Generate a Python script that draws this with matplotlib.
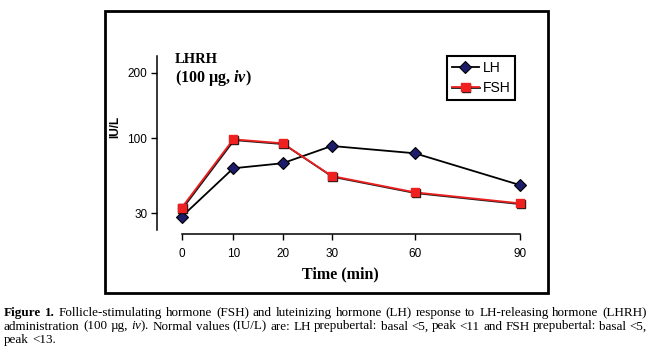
import numpy as np
import matplotlib.pyplot as plt
from matplotlib import patheffects as pe
from matplotlib.patches import Rectangle

minutes = [0, 10, 20, 30, 60, 90]
lh = [28.4, 61.8, 67.0, 88.4, 78.6, 47.2]
fsh = [32.8, 98.4, 92.3, 54.6, 42.0, 35.2]
x_ticklabels = ['0', '10', '20', '30', '60', '90']
y_ticks = [30, 100, 200]

caption = [
    "Figure 1. Follicle-stimulating hormone (FSH) and luteinizing hormone (LH) response to LH-releasing hormone (LHRH)",
    r"administration (100 µg, $\mathit{iv}$). Normal values (IU/L) are: LH prepubertal: basal <5, peak <11 and FSH prepubertal: basal <5,",
    "peak <13.",
]

# the original axes are hand made: tick spacing (px)
x_anchor = [0, 51.6, 101, 150, 233.3, 338.3]
y_anchor = [0, 75, 140.6]


def pw(x, xp, fp):
    x = np.asarray(x, float)
    xp = np.asarray(xp, float)
    fp = np.asarray(fp, float)
    out = np.interp(x, xp, fp)
    lo = fp[0] + (x - xp[0]) * (fp[1] - fp[0]) / (xp[1] - xp[0])
    hi = fp[-1] + (x - xp[-1]) * (fp[-1] - fp[-2]) / (xp[-1] - xp[-2])
    out = np.where(x < xp[0], lo, out)
    out = np.where(x > xp[-1], hi, out)
    return out


ly = np.log10(y_ticks)

plt.rcParams['mathtext.fontset'] = 'custom'
plt.rcParams['mathtext.rm'] = 'Liberation Serif'
plt.rcParams['mathtext.it'] = 'Liberation Serif:italic'
plt.rcParams['mathtext.bf'] = 'Liberation Serif:bold:italic'

fig = plt.figure(figsize=(6.5, 3.54), dpi=100)
W, H = 650, 354
ax = fig.add_axes([157 / W, 1 - 230 / H, 364 / W, 174 / H])

ax.set_xscale('function', functions=(lambda m: pw(m, minutes, x_anchor),
                                     lambda u: pw(u, x_anchor, minutes)))
ax.set_yscale('function', functions=(lambda v: pw(np.log10(np.clip(v, 1e-6, None)), ly, y_anchor),
                                     lambda u: 10 ** pw(u, y_anchor, ly)))

ax.plot(minutes, lh, color='black', lw=1.3, marker='D', ms=6,
        mfc='#1c1c6a', mec='black', mew=0.8, label='LH', clip_on=False, zorder=3)
ax.plot(minutes, fsh, color='#ee2020', lw=1.3, marker='s', ms=6,
        mfc='#ee2020', mec='#ee2020', label='FSH', clip_on=False, zorder=3,
        path_effects=[pe.SimpleLineShadow(offset=(0.6, -0.6), shadow_color='black', alpha=0.9),
                      pe.Normal()])

ax.set_xlim(-4.79, 90.3)
ax.set_ylim(22.94, 238.6)

ax.set_xticks(minutes)
ax.set_xticklabels(x_ticklabels)
ax.set_yticks(y_ticks)
ax.set_yticklabels([str(v) for v in y_ticks])
ax.minorticks_off()
ax.tick_params(axis='both', direction='out', length=4, width=1, labelsize=8.5,
               labelfontfamily='Liberation Sans')
ax.tick_params(axis='x', pad=6)
ax.tick_params(axis='y', pad=3)

for s in ['top', 'right']:
    ax.spines[s].set_visible(False)
ax.spines['left'].set_linewidth(1.1)
ax.spines['bottom'].set_linewidth(1.1)
ax.spines['bottom'].set_bounds(0, 90)
ax.spines['bottom'].set_position(('outward', 3))

ax.set_xlabel('Time (min)', family='Liberation Serif', fontweight='bold', fontsize=11.5, va='center')
ax.xaxis.set_label_coords(0.5047, -0.2529)
ax.set_ylabel('IU/L', family='Liberation Sans', fontweight='bold', fontsize=8.5, va='center')
ax.yaxis.set_label_coords(-0.1154, 0.594)

ax.text(0.0495, 0.981, 'LHRH', transform=ax.transAxes, family='Liberation Serif',
        fontweight='bold', fontsize=10.5, va='center')
ax.text(0.0495, 0.875, r'(100 µg, $\mathbf{iv}$)', transform=ax.transAxes,
        family='Liberation Serif', fontweight='bold', fontsize=11.5, va='center')

leg = ax.legend(loc='upper left', bbox_to_anchor=(0.796, 1.0), borderaxespad=0,
                fancybox=False, edgecolor='black', framealpha=1, handlelength=2.0,
                handletextpad=0.25, borderpad=0.35, labelspacing=0.45,
                prop={'family': 'Liberation Sans', 'size': 10})
leg.get_frame().set_linewidth(1.5)

# outer frame of the figure panel
fig.patches.append(Rectangle((105 / W, 1 - 293 / H), 443 / W, 282 / H,
                             transform=fig.transFigure, fill=False,
                             edgecolor='black', lw=2))

# justified caption
r = fig.canvas.get_renderer()
x0, x1 = 4, 647
baselines = [316, 329.5, 343]

probe = fig.text(0, 0, caption[0], family='Liberation Serif', fontsize=10)
size = 10 * (x1 - x0) / probe.get_window_extent(r).width * 0.99
probe.remove()

for i, line in enumerate(caption):
    words = line.split(' ')
    if '$' in line:
        # keep the mathtext piece as one word
        merged, buf = [], None
        for w in words:
            if buf is not None:
                buf += ' ' + w
                if '$' in w:
                    merged.append(buf)
                    buf = None
            elif w.count('$') == 1:
                buf = w
            else:
                merged.append(w)
        words = merged
    arts = []
    for j, w in enumerate(words):
        bold = (i == 0 and j < 2)
        t = fig.text(0, 1 - baselines[i] / H, w, family='Liberation Serif', fontsize=size,
                     fontweight='bold' if bold else 'normal', va='baseline', ha='left')
        arts.append(t)
    widths = [t.get_window_extent(r).width for t in arts]
    if i < len(caption) - 1:
        gap = (x1 - x0 - sum(widths)) / (len(words) - 1)
    else:
        gap = size * 0.25 * 100 / 72
    x = x0
    for t, w in zip(arts, widths):
        t.set_x(x / W)
        x += w + gap

fig.savefig('out.png', dpi=100)
